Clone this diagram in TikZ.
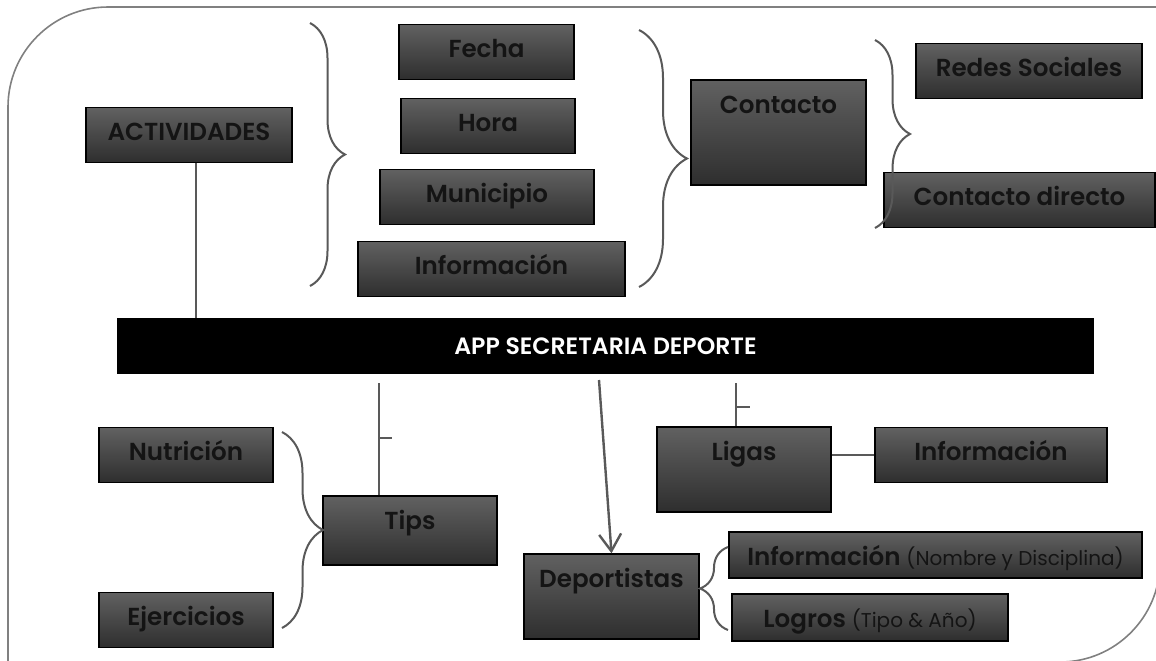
\documentclass[tikz,border=0pt]{standalone}
\usepackage{fontspec}
\setmainfont{Poppins}[BoldFont={Poppins SemiBold}]
\usetikzlibrary{arrows.meta,decorations.pathreplacing}
\tikzset{
  cbox/.style={draw=black, line width=0.7pt, top color=black!62, bottom color=black!82,
    text=black!92, font=\bfseries\fontsize{12.3}{14}\selectfont,
    inner ysep=0pt, text height=16.5pt, text depth=11pt},
  appbar/.style={fill=black, text=white, font=\bfseries\fontsize{11.8}{13}\selectfont,
    minimum width=488.5pt, minimum height=28pt, inner sep=0pt},
  conn/.style={draw=black!65, line width=1.2pt},
  brc/.style={decorate, decoration={brace, amplitude=#1}, draw=black!65, line width=1pt},
  frame/.style={draw=black!50, line width=0.8pt},
}

\begin{document}
\begin{tikzpicture}[x=0.5pt, y=-0.5pt]
    \useasboundingbox (0,0) rectangle (1156,660);
    \begin{scope}
      \clip (0,0) rectangle (1156,660);
      \draw[frame] (8,700) -- (8,107) arc[start angle=180, end angle=90, radius=50pt] -- (1200,7);
      \draw[frame] (1160,-20) -- (1160,562) arc[start angle=0, end angle=-90, radius=50pt] -- (900,662);
    \end{scope}
    \node[cbox, minimum width=103pt] (act) at (189,135) {ACTIVIDADES};
    \node[cbox, minimum width=87.5pt] (fecha) at (486.5,52) {Fecha};
    \node[cbox, minimum width=87pt] (hora) at (488,126) {Hora};
    \node[cbox, minimum width=107pt] (muni) at (487,197) {Municipio};
    \node[cbox, minimum width=133.5pt] (infoact) at (491.5,269) {Información};
    \node[cbox, minimum width=87.5pt, text depth=36pt] (contacto) at (778.5,132.5) {Contacto};
    \node[cbox, minimum width=113pt] (redes) at (1029,71) {Redes Sociales};
    \node[cbox, minimum width=135.5pt] (directo) at (1019.5,200) {Contacto directo};
    \node[appbar] (app) at (605.5,346) {APP SECRETARIA DEPORTE};
    \node[cbox, minimum width=87pt] (nutri) at (186,455) {Nutrición};
    \node[cbox, minimum width=87pt] (ejer) at (186,620) {Ejercicios};
    \node[cbox, minimum width=87pt, text depth=18pt] (tips) at (410,530.5) {Tips};
    \node[cbox, minimum width=87.5pt, text depth=26pt] (deport) at (611.5,596.5) {Deportistas};
    \node[cbox, minimum width=87pt, text depth=26pt] (ligas) at (744,469.5) {Ligas};
    \node[cbox, minimum width=116pt] (infol) at (991,455) {Información};
    \node[cbox, minimum width=206.5pt, text depth=6.5pt] (infod) at (935.5,555)
      {Información {\mdseries\fontsize{10}{11}\selectfont(Nombre y Disciplina)}};
    \node[cbox, minimum width=138pt, text depth=7pt] (logros) at (870,617.5)
      {Logros {\mdseries\fontsize{10}{11}\selectfont(Tipo \& Año)}};
    \coordinate (tipsup) at (379,383);
    \coordinate (ligasup) at (736,383);
    \coordinate (deportup) at (599,380);
    \draw[conn] ([xshift=3.5pt]act.south) -- ([xshift=3.5pt]act.south |- app.north);
    \draw[conn] (tipsup) -- (tipsup |- tips.north);
    \draw[conn] (tipsup) ++(0,55) -- ++(13,0);
    \draw[conn] (ligasup) -- (ligasup |- ligas.north);
    \draw[conn] (ligasup) ++(0,24) -- ++(14,0);
    \draw[conn, -{Straight Barb[length=8.5pt, width=11pt]}] (deportup) -- (deport.north);
    \draw[conn] (infol.west -| ligas.east) -- (infol.west);
    \draw[brc=17.5pt] (310,23) -- (310,286);
    \draw[brc=24pt] (639,30) -- (639,287);
    \draw[brc=17.5pt] (875,40) -- (875,228);
    \draw[brc=20.5pt] (282,432) -- (282,628);
    \draw[brc=14pt] (728,630) -- (728,547);
  \end{tikzpicture}
\end{document}
